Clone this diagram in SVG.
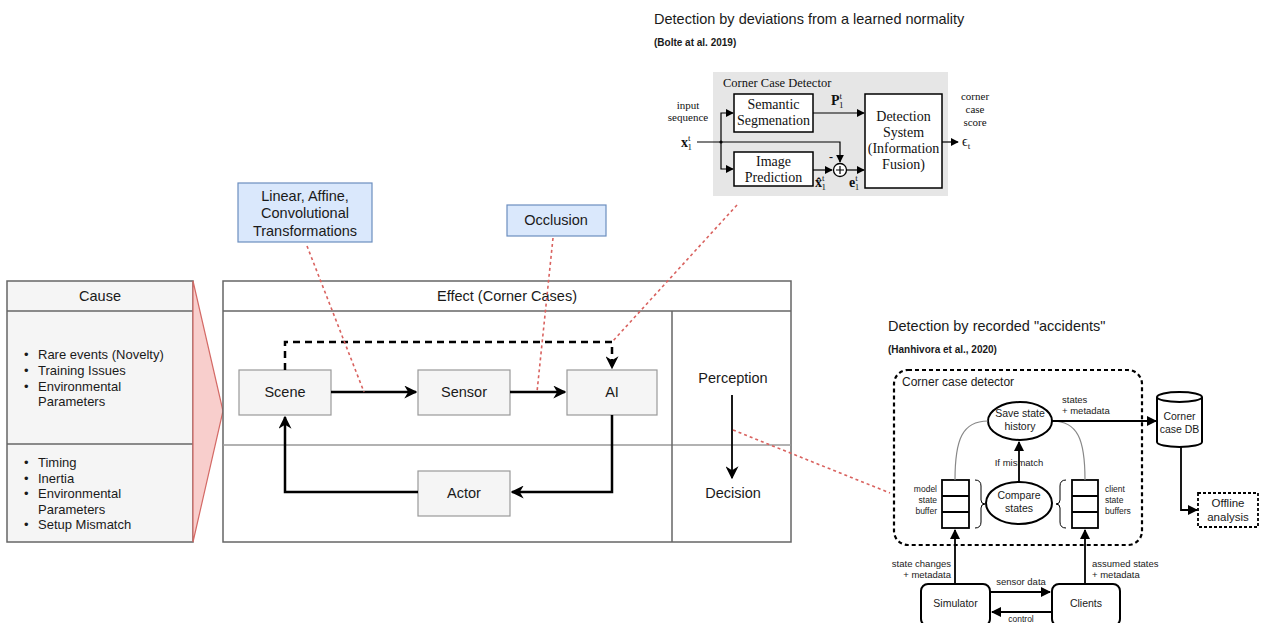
<svg xmlns="http://www.w3.org/2000/svg" width="1261" height="623" viewBox="0 0 1261 623">
  <defs>
    <style>
      .sans { font-family: "Liberation Sans", Arial, sans-serif; fill: #1a1a1a; }
      .serif { font-family: "Liberation Serif", "Times New Roman", serif; fill: #111; }
      .panel { fill: #f5f5f5; stroke: #666; stroke-width: 1.5; }
      .frame { fill: #ffffff; stroke: #666; stroke-width: 1.5; }
      .node { fill: #f5f5f5; stroke: #999; stroke-width: 1.2; }
      .note { fill: #dae8fc; stroke: #6c8ebf; stroke-width: 1.2; }
      .flow { fill: none; stroke: #000; stroke-width: 2.5; }
      .link { fill: none; stroke: #d9625f; stroke-width: 1.6; stroke-dasharray: 3 3; }
      .thin { fill: none; stroke: #000; stroke-width: 1.2; }
      .med { fill: none; stroke: #000; stroke-width: 1.8; }
      .c { text-anchor: middle; }
      .r { text-anchor: end; }
    </style>
    <marker id="arr" viewBox="0 0 10 10" refX="9" refY="5" markerWidth="13" markerHeight="13" markerUnits="userSpaceOnUse" orient="auto">
      <path d="M0,0 L10,5 L0,10 L3,5 z" fill="#000"/>
    </marker>
    <marker id="arrS" viewBox="0 0 10 10" refX="9" refY="5" markerWidth="8" markerHeight="8" markerUnits="userSpaceOnUse" orient="auto">
      <path d="M0,0 L10,5 L0,10 z" fill="#000"/>
    </marker>
    <marker id="arrM" viewBox="0 0 10 10" refX="9" refY="5" markerWidth="11" markerHeight="10" markerUnits="userSpaceOnUse" orient="auto">
      <path d="M0,0 L10,5 L0,10 z" fill="#000"/>
    </marker>
  </defs>

  <rect width="1261" height="623" fill="#ffffff"/>

  <!-- Cause panel -->
  <g id="cause">
    <rect class="panel" x="7" y="281" width="186" height="261"/>
    <line x1="7" y1="311" x2="193" y2="311" stroke="#666" stroke-width="1.5"/>
    <line x1="7" y1="444" x2="193" y2="444" stroke="#666" stroke-width="1.5"/>
    <text class="sans c" x="100" y="301" font-size="14.5">Cause</text>
    <g class="sans" font-size="13">
      <text x="24" y="359">•</text><text x="38" y="359">Rare events (Novelty)</text>
      <text x="24" y="375">•</text><text x="38" y="375">Training Issues</text>
      <text x="24" y="391">•</text><text x="38" y="391">Environmental</text>
      <text x="38" y="406">Parameters</text>
      <text x="24" y="467">•</text><text x="38" y="467">Timing</text>
      <text x="24" y="483">•</text><text x="38" y="483">Inertia</text>
      <text x="24" y="498">•</text><text x="38" y="498">Environmental</text>
      <text x="38" y="514">Parameters</text>
      <text x="24" y="529">•</text><text x="38" y="529">Setup Mismatch</text>
    </g>
  </g>

  <!-- Cause-to-effect wedge -->
  <g id="wedge">
    <path d="M193,281 L223,411 L193,542 Z" fill="#f8cecc" stroke="#d46a66" stroke-width="1.2"/>
  </g>

  <!-- Effect panel -->
  <g id="effect">
    <rect class="frame" x="223" y="281" width="568" height="261"/>
    <line x1="223" y1="311" x2="791" y2="311" stroke="#666" stroke-width="1.5"/>
    <line x1="223" y1="445" x2="791" y2="445" stroke="#999" stroke-width="1.5"/>
    <line x1="672" y1="311" x2="672" y2="542" stroke="#666" stroke-width="1.5"/>
    <text class="sans c" x="507" y="301" font-size="14.5">Effect (Corner Cases)</text>
  </g>

  <g id="scene">
    <rect class="node" x="239" y="370" width="92" height="45"/>
    <text class="sans c" x="285" y="397" font-size="14.5">Scene</text>
  </g>
  <g id="sensor">
    <rect class="node" x="418" y="370" width="92" height="45"/>
    <text class="sans c" x="464" y="397" font-size="14.5">Sensor</text>
  </g>
  <g id="ai">
    <rect class="node" x="567" y="370" width="90" height="45"/>
    <text class="sans c" x="612" y="397" font-size="14.5">AI</text>
  </g>
  <g id="actor">
    <rect class="node" x="418" y="471" width="92" height="45"/>
    <text class="sans c" x="464" y="498" font-size="14.5">Actor</text>
  </g>
  <g id="perception">
    <text class="sans c" x="733" y="383" font-size="14.5">Perception</text>
  </g>
  <g id="decision">
    <text class="sans c" x="733" y="498" font-size="14.5">Decision</text>
  </g>

  <!-- Annotation notes -->
  <g id="note-transformations">
    <rect class="note" x="238" y="183" width="134" height="59"/>
    <g class="sans c" font-size="14.5">
      <text x="305" y="201">Linear, Affine,</text>
      <text x="305" y="218">Convolutional</text>
      <text x="305" y="236">Transformations</text>
    </g>
  </g>
  <g id="note-occlusion">
    <rect class="note" x="507" y="205" width="99" height="31"/>
    <text class="sans c" x="556" y="225" font-size="14.5">Occlusion</text>
  </g>

  <!-- Loop connectors -->
  <g id="connectors">
    <path class="flow" d="M331,392 H416" marker-end="url(#arr)"/>
    <path class="flow" d="M510,392 H565" marker-end="url(#arr)"/>
    <path class="flow" d="M285,370 V342 H612 V368" stroke-dasharray="7 5" marker-end="url(#arr)"/>
    <path class="flow" d="M612,415 V492 H512" marker-end="url(#arr)"/>
    <path class="flow" d="M418,492 H285 V417" marker-end="url(#arr)"/>
    <path class="med" d="M732,395 V478" marker-end="url(#arr)"/>

    <!-- dashed reference links -->
    <path class="link" d="M307,246 L364,392"/>
    <path class="link" d="M553,238 L537,392"/>
    <path class="link" d="M737,205 L612,342"/>
    <path class="link" d="M733,430 L890,493"/>
  </g>

  <!-- Detector based on deviations from learned normality -->
  <g id="bolte">
    <text class="sans" x="654" y="24" font-size="14.5">Detection by deviations from a learned normality</text>
    <text class="sans" x="654" y="46" font-size="10" font-weight="bold">(Bolte at al. 2019)</text>
    <rect x="713" y="72" width="235" height="124" fill="#e6e6e6"/>
    <text class="serif" x="723" y="87" font-size="12.5">Corner Case Detector</text>

    <g id="semantic-segmentation">
      <rect x="734" y="94" width="79" height="38" fill="#fff" stroke="#000" stroke-width="1.5"/>
      <text class="serif c" x="773.5" y="109" font-size="14">Semantic</text>
      <text class="serif c" x="773.5" y="125" font-size="14">Segmenation</text>
    </g>
    <g id="image-prediction">
      <rect x="734" y="152" width="79" height="34" fill="#fff" stroke="#000" stroke-width="1.5"/>
      <text class="serif c" x="773.5" y="166" font-size="14">Image</text>
      <text class="serif c" x="773.5" y="182" font-size="14">Prediction</text>
    </g>
    <g id="detection-system">
      <rect x="865" y="94" width="77" height="94" fill="#fff" stroke="#000" stroke-width="1.5"/>
      <g class="serif c" font-size="14">
        <text x="903.5" y="121">Detection</text>
        <text x="903.5" y="137">System</text>
        <text x="903.5" y="153">(Information</text>
        <text x="903.5" y="169">Fusion)</text>
      </g>
    </g>
    <g id="sum">
      <circle cx="840" cy="170" r="6.5" fill="#fff" stroke="#000" stroke-width="1.3"/>
      <path d="M836,170 H844 M840,166 V174" stroke="#000" stroke-width="1.2"/>
      <text class="serif" x="829" y="161" font-size="12" font-weight="bold">-</text>
    </g>

    <g class="serif" font-size="11">
      <text class="c" x="688" y="109">input</text>
      <text class="c" x="688" y="121">sequence</text>
      <text class="c" x="975" y="100">corner</text>
      <text class="c" x="975" y="113">case</text>
      <text class="c" x="975" y="126">score</text>
    </g>
    <text class="serif" x="681" y="147" font-size="14" font-weight="bold">x<tspan font-size="9" font-weight="normal" dy="-6">t</tspan><tspan font-size="9" font-weight="normal" dx="-3" dy="9">1</tspan></text>
    <text class="serif" x="831" y="105" font-size="14" font-weight="bold">P<tspan font-size="9" font-weight="normal" dy="-6">t</tspan><tspan font-size="9" font-weight="normal" dx="-3" dy="9">1</tspan></text>
    <text class="serif" x="815" y="187" font-size="14" font-weight="bold">x̂<tspan font-size="9" font-weight="normal" dy="-6">t</tspan><tspan font-size="9" font-weight="normal" dx="-3" dy="9">1</tspan></text>
    <text class="serif" x="849" y="187" font-size="14" font-weight="bold">e<tspan font-size="9" font-weight="normal" dy="-6">t</tspan><tspan font-size="9" font-weight="normal" dx="-3" dy="9">1</tspan></text>
    <text class="serif" x="962" y="146" font-size="14">ϵ<tspan font-size="9" dy="3">t</tspan></text>

    <g id="bolte-connectors">
      <path class="thin" d="M697,142 H840 V162" marker-end="url(#arrS)"/>
      <path class="thin" d="M721,142 V113 H733" marker-end="url(#arrS)"/>
      <path class="thin" d="M721,142 V169 H733" marker-end="url(#arrS)"/>
      <circle cx="721" cy="142" r="1.6" fill="#000"/>
      <path class="thin" d="M813,113 H864" marker-end="url(#arrS)"/>
      <path class="thin" d="M813,170 H832" marker-end="url(#arrS)"/>
      <path class="thin" d="M846.5,170 H864" marker-end="url(#arrS)"/>
      <path class="thin" d="M942,142 H958" marker-end="url(#arrS)"/>
    </g>
  </g>

  <!-- Detector based on recorded accidents -->
  <g id="hanhivora">
    <text class="sans" x="888" y="331" font-size="14.5">Detection by recorded "accidents"</text>
    <text class="sans" x="888" y="353" font-size="10" font-weight="bold">(Hanhivora et al., 2020)</text>

    <rect x="894" y="370" width="248" height="175" rx="14" fill="none" stroke="#000" stroke-width="2.2" stroke-dasharray="4 3"/>
    <text class="sans" x="902" y="386" font-size="12">Corner case detector</text>

    <g id="save-state-history">
      <ellipse cx="1020" cy="421" rx="32" ry="19" fill="#fff" stroke="#000" stroke-width="2"/>
      <text class="sans c" x="1020" y="417" font-size="10.5">Save state</text>
      <text class="sans c" x="1020" y="430" font-size="10.5">history</text>
    </g>
    <g id="compare-states">
      <ellipse cx="1019" cy="503" rx="33" ry="21" fill="#fff" stroke="#000" stroke-width="2"/>
      <text class="sans c" x="1019" y="499" font-size="10.5">Compare</text>
      <text class="sans c" x="1019" y="512" font-size="10.5">states</text>
    </g>
    <g id="model-state-buffer">
      <rect x="942" y="480" width="27" height="48" fill="#fff" stroke="#000" stroke-width="1.8"/>
      <path d="M942,496 H969 M942,512 H969" stroke="#000" stroke-width="1.8"/>
      <g class="sans r" font-size="8.5">
        <text x="937" y="492">model</text>
        <text x="937" y="503">state</text>
        <text x="937" y="514">buffer</text>
      </g>
      <path d="M975,480 q6,0 6,6 v14 q0,4 4,4 q-4,0 -4,4 v14 q0,6 -6,6" fill="none" stroke="#000" stroke-width="1"/>
    </g>
    <g id="client-state-buffers">
      <rect x="1072" y="480" width="26" height="48" fill="#fff" stroke="#000" stroke-width="1.8"/>
      <path d="M1072,496 H1098 M1072,512 H1098" stroke="#000" stroke-width="1.8"/>
      <g class="sans" font-size="8.5">
        <text x="1105" y="492">client</text>
        <text x="1105" y="503">state</text>
        <text x="1105" y="514">buffers</text>
      </g>
      <path d="M1066,480 q-6,0 -6,6 v14 q0,4 -4,4 q4,0 4,4 v14 q0,6 6,6" fill="none" stroke="#000" stroke-width="1"/>
    </g>
    <g id="corner-case-db">
      <path d="M1157,397 a22.5,5 0 0,1 45,0 v45 a22.5,5 0 0,1 -45,0 z" fill="#fff" stroke="#000" stroke-width="2"/>
      <path d="M1157,397 a22.5,5 0 0,0 45,0" fill="none" stroke="#000" stroke-width="2"/>
      <text class="sans c" x="1179.5" y="420" font-size="10.5">Corner</text>
      <text class="sans c" x="1179.5" y="433" font-size="10.5">case DB</text>
    </g>
    <g id="offline-analysis">
      <rect x="1198" y="493" width="60" height="34" fill="#fff" stroke="#000" stroke-width="1.8" stroke-dasharray="3 2"/>
      <text class="sans c" x="1228" y="507" font-size="11.5">Offline</text>
      <text class="sans c" x="1228" y="521" font-size="11.5">analysis</text>
    </g>
    <g id="simulator">
      <rect x="921" y="584" width="69" height="42" rx="7" fill="#fff" stroke="#000" stroke-width="2"/>
      <text class="sans c" x="955.5" y="607" font-size="10.5">Simulator</text>
    </g>
    <g id="clients">
      <rect x="1052" y="584" width="68" height="42" rx="7" fill="#fff" stroke="#000" stroke-width="2"/>
      <text class="sans c" x="1086" y="607" font-size="10.5">Clients</text>
    </g>

    <g id="hanhivora-connectors">
      <path d="M955,480 C955,440 962,421 988,421" fill="none" stroke="#888" stroke-width="1.2"/>
      <path d="M1085,480 C1085,440 1078,421 1052,421" fill="none" stroke="#888" stroke-width="1.2"/>
      <path class="med" d="M1019,482 V442" marker-end="url(#arrM)"/>
      <path class="med" d="M1052,421 H1156" marker-end="url(#arrM)"/>
      <path class="med" d="M1181,447 V510 H1197" marker-end="url(#arrM)"/>
      <path class="med" d="M955,584 V530" marker-end="url(#arrM)"/>
      <path class="med" d="M1085,584 V530" marker-end="url(#arrM)"/>
      <path class="med" d="M990,592 H1050" marker-end="url(#arrM)"/>
      <path class="med" d="M1052,612 H992" marker-end="url(#arrM)"/>
    </g>
    <g class="sans" font-size="9.5">
      <text class="c" x="1019" y="466">If mismatch</text>
      <text x="1062" y="403">states</text>
      <text x="1062" y="414">+ metadata</text>
      <text class="r" x="951" y="567">state changes</text>
      <text class="r" x="951" y="578">+ metadata</text>
      <text x="1092" y="567">assumed states</text>
      <text x="1092" y="578">+ metadata</text>
      <text class="c" x="1021" y="585">sensor data</text>
      <text class="c" x="1021" y="622" font-size="8.5">control</text>
    </g>
  </g>
</svg>
